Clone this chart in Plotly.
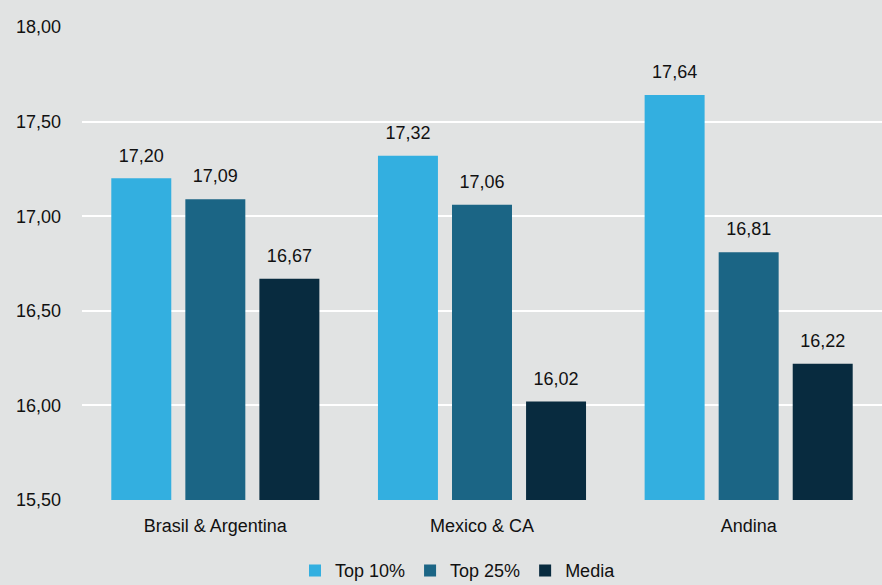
import plotly.graph_objects as go

categories = ["Brasil & Argentina", "Mexico & CA", "Andina"]
top10 = [17.20, 17.32, 17.64]
top25 = [17.09, 17.06, 16.81]
media = [16.67, 16.02, 16.22]
series_names = ["Top 10%", "Top 25%", "Media"]
colors = ["#33afe0", "#1b6585", "#082b3f"]
y_ticks = [15.5, 16.0, 16.5, 17.0, 17.5, 18.0]

font_family = "Liberation Sans, Arial, sans-serif"

fig = go.Figure()
for name, vals, col in zip(series_names, [top10, top25, media], colors):
    fig.add_trace(go.Bar(
        x=categories, y=vals, name=name,
        marker=dict(color=col, line=dict(width=0)),
        texttemplate="<span style='font-size:18px'>%{y:.2f}</span><br>&nbsp;",
        textposition="outside",
        textfont=dict(size=9, color="#111111", family=font_family),
        cliponaxis=False,
    ))

fig.update_layout(
    width=882, height=585,
    margin=dict(l=82, r=0, t=27, b=85),
    barmode="group",
    bargap=0.167,
    bargroupgap=0.19,
    separators=",.",
    paper_bgcolor="#e1e3e3",
    plot_bgcolor="#e1e3e3",
    font=dict(family=font_family, size=18, color="#111111"),
    showlegend=True,
    uniformtext=dict(mode=False),
    legend=dict(
        orientation="h", x=0.47, xanchor="center",
        yref="container", y=0.056, yanchor="top",
        font=dict(size=18, color="#111111"),
        itemwidth=30, tracegroupgap=0,
        bgcolor="rgba(0,0,0,0)",
    ),
    yaxis=dict(
        range=[15.5, 18.0],
        tickvals=y_ticks,
        tickformat=".2f",
        showgrid=True, gridcolor="#ffffff", gridwidth=2,
        zeroline=False, showline=False,
        ticks="", ticklabelstandoff=20,
        tickfont=dict(size=18), automargin=False,
    ),
    xaxis=dict(
        showgrid=False, showline=False, ticks="",
        tickfont=dict(size=18), ticklabelstandoff=13, automargin=False,
    ),
)

fig.write_html(
    "out.html",
    config={"displayModeBar": False},
    post_script="document.body.style.margin='0';document.body.style.overflow='hidden';",
)
